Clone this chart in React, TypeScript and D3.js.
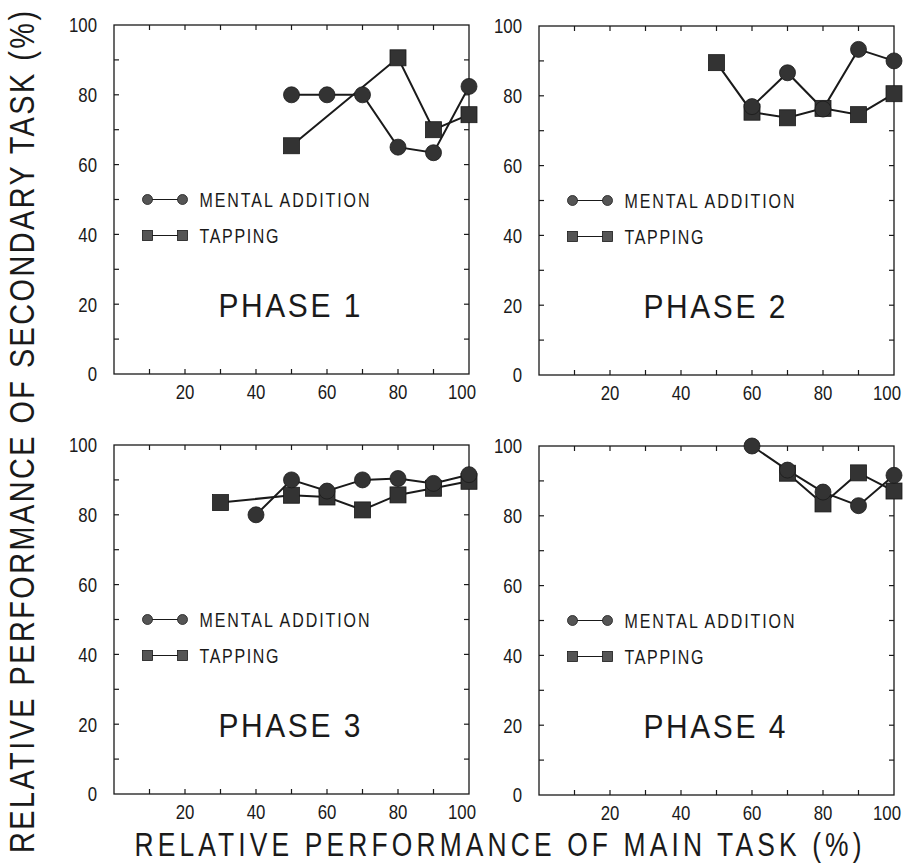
import React from "react";
import * as d3 from "d3";

// panel data: [x = main task %, y = secondary task %]
const phase1Mental: [number, number][] = [[50, 80], [60, 80], [70, 80], [80, 65], [90, 63.4], [100, 82.4]];
const phase1Tapping: [number, number][] = [[50, 65.4], [80, 90.6], [90, 70], [100, 74.3]];
const phase2Mental: [number, number][] = [[60, 76.9], [70, 86.6], [80, 76.2], [90, 93.3], [100, 90]];
const phase2Tapping: [number, number][] = [[50, 89.5], [60, 75.3], [70, 73.7], [80, 76.4], [90, 74.6], [100, 80.6]];
const phase3Mental: [number, number][] = [[40, 80], [50, 90], [60, 86.8], [70, 90], [80, 90.4], [90, 89], [100, 91.5]];
const phase3Tapping: [number, number][] = [[30, 83.5], [50, 85.6], [60, 85.1], [70, 81.4], [80, 85.7], [90, 87.6], [100, 89.6]];
const phase4Mental: [number, number][] = [[60, 100], [70, 93.1], [80, 86.8], [90, 82.9], [100, 91.6]];
const phase4Tapping: [number, number][] = [[70, 92.2], [80, 83.4], [90, 92.3], [100, 87.1]];

const phaseNames = ["PHASE 1", "PHASE 2", "PHASE 3", "PHASE 4"];
const legendNames = ["MENTAL ADDITION", "TAPPING"];
const xTickLabels = [20, 40, 60, 80, 100];
const yTickLabels = [0, 20, 40, 60, 80, 100];
const minorTicks = d3.range(10, 100, 10);

const font = "'Liberation Sans', Arial, sans-serif";
const ink = "#1a1a1a";
const markFill = "#333";

const panels = [
  { left: 114, top: 25, mental: phase1Mental, tapping: phase1Tapping },
  { left: 539, top: 26, mental: phase2Mental, tapping: phase2Tapping },
  { left: 114, top: 445, mental: phase3Mental, tapping: phase3Tapping },
  { left: 539, top: 446, mental: phase4Mental, tapping: phase4Tapping },
];

const W = 355;
const H = 349;

// narrow text: horizontally squeezed like the plotter font
const NText = ({ x, y, size, anchor = "start", sx = 0.8, rotate = 0, len, children }: any) => (
  <g transform={`translate(${x}, ${y}) rotate(${rotate}) scale(${sx}, 1)`}>
    <text
      x={0}
      y={0}
      dy="0.35em"
      textAnchor={anchor}
      fontSize={size}
      fontFamily={font}
      fill={ink}
      textLength={len ? len / sx : undefined}
      lengthAdjust={len ? "spacing" : undefined}
    >
      {children}
    </text>
  </g>
);

const Panel = ({ left, top, mental, tapping, name }: any) => {
  const x = d3.scaleLinear().domain([0, 100]).range([0, W]);
  const y = d3.scaleLinear().domain([0, 100]).range([H, 0]);
  const line = d3.line<[number, number]>().x(d => x(d[0])).y(d => y(d[1]));
  const tk = 5;
  return (
    <g transform={`translate(${left}, ${top})`}>
      <rect width={W} height={H} fill="none" stroke={ink} strokeWidth={1.3} />
      {minorTicks.map(t => (
        <g key={t} stroke={ink} strokeWidth={1.2}>
          <line x1={x(t)} x2={x(t)} y1={H} y2={H - tk} />
          <line x1={x(t)} x2={x(t)} y1={0} y2={tk} />
          <line y1={y(t)} y2={y(t)} x1={0} x2={tk} />
          <line y1={y(t)} y2={y(t)} x1={W} x2={W - tk} />
        </g>
      ))}
      {yTickLabels.map(t => (
        <NText key={t} x={-17} y={y(t)} size={21} anchor="end">{t}</NText>
      ))}
      {xTickLabels.map(t => (
        <NText key={t} x={x(t) - (t === 100 ? 7 : 0)} y={H + 18} size={21} anchor="middle">{t}</NText>
      ))}
      <path d={line(mental) || ""} fill="none" stroke={ink} strokeWidth={2} />
      <path d={line(tapping) || ""} fill="none" stroke={ink} strokeWidth={2} />
      {tapping.map((d: [number, number], i: number) => (
        <rect key={"t" + i} x={x(d[0]) - 8} y={y(d[1]) - 8} width={16} height={16} fill={markFill} stroke={ink} strokeWidth={0.8} />
      ))}
      {mental.map((d: [number, number], i: number) => (
        <circle key={"m" + i} cx={x(d[0])} cy={y(d[1])} r={8} fill={markFill} stroke={ink} strokeWidth={0.8} />
      ))}
      {/* legend */}
      <g transform={`translate(${x(10) - 2}, ${y(50)})`}>
        <line x1={0} x2={35} y1={0} y2={0} stroke={ink} strokeWidth={1.2} />
        <circle cx={0} cy={0} r={5} fill="#555" stroke={ink} strokeWidth={0.8} />
        <circle cx={35} cy={0} r={5} fill="#555" stroke={ink} strokeWidth={0.8} />
        <NText x={52} y={0} size={20} len={170}>{legendNames[0]}</NText>
        <line x1={0} x2={35} y1={36} y2={36} stroke={ink} strokeWidth={1.2} />
        <rect x={-5} y={31} width={10} height={10} fill="#555" stroke={ink} strokeWidth={0.8} />
        <rect x={30} y={31} width={10} height={10} fill="#555" stroke={ink} strokeWidth={0.8} />
        <NText x={52} y={36} size={20} len={79}>{legendNames[1]}</NText>
      </g>
      <NText x={x(50) - 2} y={y(20) + 1} size={34} sx={0.88} anchor="middle" len={142}>{name}</NText>
    </g>
  );
};

export default function App() {
  return (
    <svg width={908} height={864} style={{ position: "absolute", left: 0, top: 0, background: "#fff" }}>
      {panels.map((p, i) => (
        <Panel key={i} {...p} name={phaseNames[i]} />
      ))}
      <NText x={498} y={844} size={33} anchor="middle" len={727}>
        RELATIVE PERFORMANCE OF MAIN TASK (%)
      </NText>
      <NText x={21} y={432} size={36} anchor="middle" rotate={-90} len={842}>
        RELATIVE PERFORMANCE OF SECONDARY TASK (%)
      </NText>
    </svg>
  );
}
